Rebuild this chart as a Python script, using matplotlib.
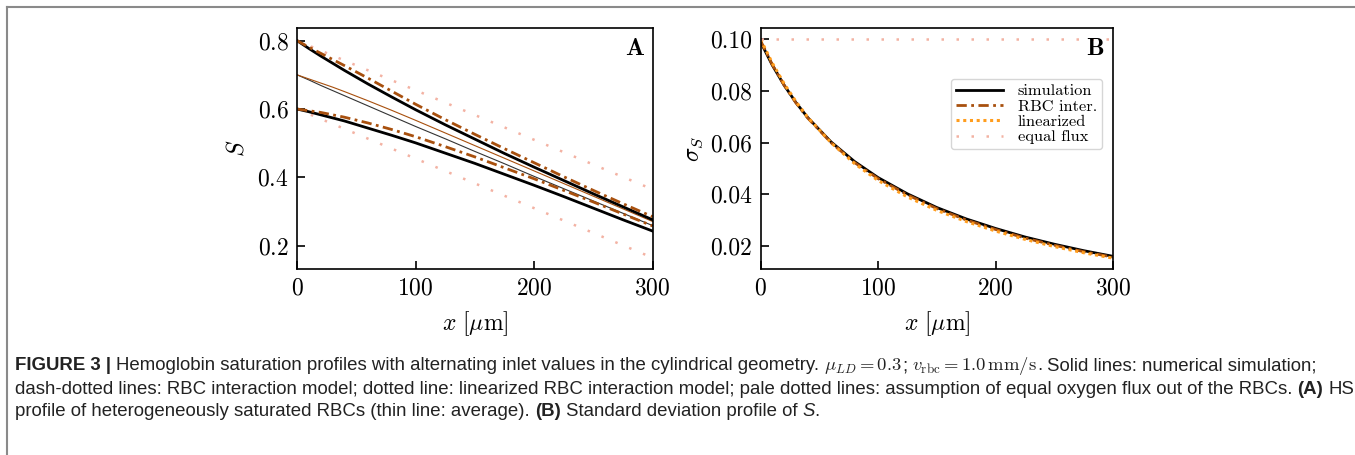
import matplotlib
matplotlib.use("Agg")
import matplotlib.pyplot as plt
from matplotlib.lines import Line2D

plt.rcParams["mathtext.fontset"] = "cm"
plt.rcParams["axes.formatter.use_mathtext"] = True

# Axial positions (um)
x = [0, 10, 20, 30, 40, 60, 80, 100, 125, 150, 175, 200, 225, 250, 275, 300]

# (A) saturation of the two alternating RBC populations
sim_high = [0.800, 0.777, 0.755, 0.734, 0.713, 0.673, 0.635, 0.598, 0.554, 0.512,
            0.470, 0.430, 0.391, 0.352, 0.314, 0.276]
sim_low = [0.600, 0.592, 0.583, 0.574, 0.565, 0.544, 0.523, 0.501, 0.471, 0.441,
           0.409, 0.377, 0.344, 0.310, 0.276, 0.243]
sim_avg = [0.700, 0.685, 0.669, 0.654, 0.639, 0.609, 0.579, 0.549, 0.513, 0.476,
           0.440, 0.403, 0.367, 0.331, 0.295, 0.259]
rbc_high = [0.800, 0.781, 0.763, 0.745, 0.727, 0.690, 0.652, 0.614, 0.569, 0.526,
            0.484, 0.443, 0.402, 0.362, 0.323, 0.285]
rbc_low = [0.600, 0.595, 0.590, 0.583, 0.576, 0.559, 0.540, 0.519, 0.490, 0.460,
           0.428, 0.396, 0.362, 0.328, 0.293, 0.258]
rbc_avg = [0.700, 0.688, 0.676, 0.664, 0.651, 0.624, 0.596, 0.567, 0.530, 0.493,
           0.456, 0.419, 0.382, 0.345, 0.308, 0.271]
x_flux = [0, 300]
flux_high = [0.800, 0.365]
flux_low = [0.600, 0.165]

# (B) standard deviation of S
sd_sim = [0.0990, 0.0900, 0.0823, 0.0756, 0.0698, 0.0603, 0.0527, 0.0465, 0.0402,
          0.0349, 0.0305, 0.0268, 0.0235, 0.0207, 0.0182, 0.0160]
sd_rbc = [0.0995, 0.0902, 0.0823, 0.0755, 0.0696, 0.0600, 0.0523, 0.0461, 0.0398,
          0.0345, 0.0301, 0.0264, 0.0231, 0.0203, 0.0178, 0.0157]
sd_lin = [0.1000, 0.0908, 0.0829, 0.0760, 0.0699, 0.0600, 0.0519, 0.0454, 0.0390,
          0.0338, 0.0295, 0.0258, 0.0226, 0.0198, 0.0174, 0.0153]
sd_flux = [0.100, 0.100]

BROWN = "#a8500e"
ORANGE = "#ff9d1e"
PALE = "#f3b2a3"
SERIF = ["cmr10", "DejaVu Serif"]
BOLD_SERIF = ["cmb10", "DejaVu Serif"]
SANS = ["Liberation Sans Narrow", "Liberation Sans", "DejaVu Sans"]

dashdot = (0, (3.7, 1.6, 1.0, 1.6))
fine_dot = (0, (1.0, 1.2))
sparse_dot = (0, (1.0, 5.0))

fig = plt.figure(figsize=(13.55, 4.55), dpi=100)
axA = fig.add_axes([0.2192, 0.4088, 0.2624, 0.5297])
axB = fig.add_axes([0.5613, 0.4088, 0.2601, 0.5297])

# panel A
axA.plot(x_flux, flux_high, color=PALE, lw=1.8, ls=sparse_dot)
axA.plot(x_flux, flux_low, color=PALE, lw=1.8, ls=sparse_dot)
axA.plot(x, sim_avg, color="#333333", lw=0.8)
axA.plot(x, rbc_avg, color=BROWN, lw=0.8)
axA.plot(x, sim_high, color="black", lw=2.0)
axA.plot(x, sim_low, color="black", lw=2.0)
axA.plot(x, rbc_high, color=BROWN, lw=2.0, ls=dashdot, dash_capstyle="butt")
axA.plot(x, rbc_low, color=BROWN, lw=2.0, ls=dashdot, dash_capstyle="butt")
axA.set_xlim(0, 300)
axA.set_ylim(0.132, 0.837)
axA.set_yticks([0.2, 0.4, 0.6, 0.8])
axA.set_ylabel("$S$", fontsize=17, labelpad=6)
axA.text(0.975, 0.96, "A", transform=axA.transAxes, ha="right", va="top",
         fontsize=18, family=BOLD_SERIF)

# panel B
axB.plot(x, sd_sim, color="black", lw=2.0, label="simulation")
axB.plot(x, sd_rbc, color=BROWN, lw=2.0, ls=dashdot, dash_capstyle="butt",
         label="RBC inter.")
axB.plot(x, sd_lin, color=ORANGE, lw=2.2, ls=fine_dot, label="linearized")
axB.plot(x_flux, sd_flux, color=PALE, lw=1.8, ls=sparse_dot, label="equal flux")
axB.set_xlim(0, 300)
axB.set_ylim(0.0111, 0.1044)
axB.set_yticks([0.02, 0.04, 0.06, 0.08, 0.10])
axB.set_yticklabels(["0.02", "0.04", "0.06", "0.08", "0.10"])
axB.set_ylabel(r"$\sigma_S$", fontsize=17, labelpad=4)
axB.text(0.975, 0.96, "B", transform=axB.transAxes, ha="right", va="top",
         fontsize=18, family=BOLD_SERIF)
leg = axB.legend(loc="upper right", bbox_to_anchor=(0.969, 0.788), borderaxespad=0,
                 prop={"family": SERIF, "size": 11.8}, handlelength=2.9,
                 borderpad=0.3, labelspacing=0.05, handletextpad=0.9,
                 frameon=True, fancybox=True, framealpha=0.8, edgecolor="#cccccc")

for ax in (axA, axB):
    ax.set_xticks([0, 100, 200, 300])
    ax.set_xlabel(r"$x\ [\mu\mathrm{m}]$", fontsize=17, labelpad=7)
    ax.tick_params(direction="in", length=6, width=1.2, labelsize=17, pad=6)
    for lab in ax.get_xticklabels() + ax.get_yticklabels():
        lab.set_family(SERIF)
    for sp in ax.spines.values():
        sp.set_linewidth(1.2)

# page frame
fig.add_artist(Line2D([7 / 1355, 1.0], [1 - 7 / 455, 1 - 7 / 455],
                      transform=fig.transFigure, color="#8a8a8a", lw=1.5))
fig.add_artist(Line2D([7 / 1355, 7 / 1355], [0.0, 1 - 7 / 455],
                      transform=fig.transFigure, color="#8a8a8a", lw=1.5))

# caption, written as runs of differently styled text
renderer = fig.canvas.get_renderer()
CAP_SIZE = 13.4
base = dict(fontsize=CAP_SIZE, family=SANS, color="#222222")


def text_width(s, **kw):
    t = fig.text(0, 0, s, **kw)
    w = t.get_window_extent(renderer).width
    t.remove()
    return w


space_w = text_width("a a", **base) - text_width("aa", **base)


def draw_runs(y_px, runs, x_px=15):
    for s, style in runs:
        if s == " ":
            x_px += space_w
            continue
        kw = dict(base)
        kw.update(style)
        t = fig.text(x_px / 1355, 1 - y_px / 455, s, va="center", ha="left", **kw)
        x_px += t.get_window_extent(renderer).width


B = {"weight": "bold"}
N = {}
draw_runs(366, [
    ("FIGURE 3 |", B), (" ", N),
    ("Hemoglobin saturation profiles with alternating inlet values in the cylindrical geometry.", N),
    (" ", N), (r"$\mu_{LD} = 0.3$", N), (";", N), (" ", N),
    (r"$\mathit{v}_{\mathrm{rbc}} = 1.0\,\mathrm{mm/s}$", N), (".", N), (" ", N),
    ("Solid lines: numerical simulation;", N),
])
draw_runs(389, [
    ("dash-dotted lines: RBC interaction model; dotted line: linearized RBC interaction model; "
     "pale dotted lines: assumption of equal oxygen flux out of the RBCs.", N),
    (" ", N), ("(A)", B), (" ", N), ("HS", N),
])
draw_runs(412, [
    ("profile of heterogeneously saturated RBCs (thin line: average).", N), (" ", N),
    ("(B)", B), (" ", N), ("Standard deviation profile of", N), (" ", N),
    ("S", {"style": "italic"}), (".", N),
])

fig.savefig("out.png", dpi=100)
